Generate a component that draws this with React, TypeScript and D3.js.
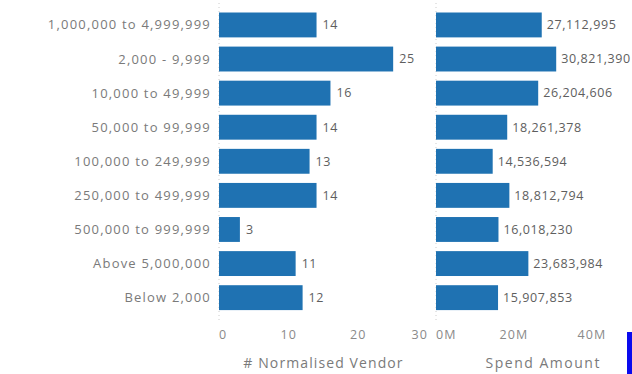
import React from "react";
import * as d3 from "d3";

const categories = [
  "1,000,000 to 4,999,999",
  "2,000 - 9,999",
  "10,000 to 49,999",
  "50,000 to 99,999",
  "100,000 to 249,999",
  "250,000 to 499,999",
  "500,000 to 999,999",
  "Above 5,000,000",
  "Below 2,000",
];
const vendorCounts = [14, 25, 16, 14, 13, 14, 3, 11, 12];
const spendAmounts = [27112995, 30821390, 26204606, 18261378, 14536594, 18812794, 16018230, 23683984, 15907853];
const vendorTicks = [0, 10, 20, 30];
const spendTicks = [0, 20e6, 40e6];
const vendorTitle = "# Normalised Vendor";
const spendTitle = "Spend Amount";

const W = 632;
const H = 374;
const FONT = "'Open Sans', sans-serif";
const BAR = "#1f72b2";

export default function App() {
  const y = d3.scaleBand<string>().domain(categories).range([3.3, 319.3]).padding(0.27);
  const xL = d3.scaleLinear().domain([0, 30]).range([219, 428]);
  const xR = d3.scaleLinear().domain([0, 55e6]).range([436, 650.5]);
  const fmt = d3.format(",");
  const fmtM = (v: number) => `${v / 1e6}M`;
  const tickY = 339;
  const titleY = 368;
  const catStyle = { fontFamily: FONT, fontSize: 13, letterSpacing: 1.2 } as const;
  const valStyle = { fontFamily: FONT, fontSize: 12.5, letterSpacing: 0.6 } as const;
  const tickStyle = { fontFamily: FONT, fontSize: 12.5, letterSpacing: 1.1 } as const;
  const titleStyle = { fontFamily: FONT, fontSize: 14, letterSpacing: 1.1 } as const;

  return (
    <svg width={W} height={H} style={{ position: "absolute", left: 0, top: 0, background: "#fff" }}>
      {/* axis baselines */}
      <line x1={xL(0)} x2={xL(0)} y1={3} y2={320} stroke="#ccc" strokeDasharray="1,3" />
      <line x1={xR(0)} x2={xR(0)} y1={3} y2={320} stroke="#ccc" strokeDasharray="1,3" />

      {/* category labels */}
      {categories.map((c) => (
        <text key={c} x={xL(0) - 8} y={(y(c) as number) + y.bandwidth() / 2} dy="0.35em" textAnchor="end" fill="#7a7a7a" style={catStyle}>
          {c}
        </text>
      ))}

      {/* left bars */}
      {categories.map((c, i) => (
        <g key={"L" + c}>
          <rect x={xL(0)} y={y(c)} width={xL(vendorCounts[i]) - xL(0)} height={y.bandwidth()} fill={BAR} />
          <text x={xL(vendorCounts[i]) + 6} y={(y(c) as number) + y.bandwidth() / 2} dy="0.35em" fill="#5e5e5e" style={valStyle}>
            {vendorCounts[i]}
          </text>
        </g>
      ))}

      {/* right bars */}
      {categories.map((c, i) => (
        <g key={"R" + c}>
          <rect x={xR(0)} y={y(c)} width={xR(spendAmounts[i]) - xR(0)} height={y.bandwidth()} fill={BAR} />
          <text x={xR(spendAmounts[i]) + 5} y={(y(c) as number) + y.bandwidth() / 2} dy="0.35em" fill="#5e5e5e" style={valStyle}>
            {fmt(spendAmounts[i])}
          </text>
        </g>
      ))}

      {/* left ticks */}
      {vendorTicks.map((t, i) => (
        <text key={"lt" + t} x={xL(t)} y={tickY} textAnchor={i === 0 ? "start" : i === vendorTicks.length - 1 ? "end" : "middle"} fill="#8a8a8a" style={tickStyle}>
          {t}
        </text>
      ))}
      {/* right ticks */}
      {spendTicks.map((t, i) => (
        <text key={"rt" + t} x={xR(t)} y={tickY} textAnchor={i === 0 ? "start" : "middle"} fill="#8a8a8a" style={tickStyle}>
          {fmtM(t)}
        </text>
      ))}

      {/* titles */}
      <text x={(xL.range()[0] + xL.range()[1]) / 2} y={titleY} textAnchor="middle" fill="#7a7a7a" style={titleStyle}>
        {vendorTitle}
      </text>
      <text x={(xR.range()[0] + xR.range()[1]) / 2} y={titleY} textAnchor="middle" fill="#7a7a7a" style={{ ...titleStyle, letterSpacing: 1.5 }}>
        {spendTitle}
      </text>

      {/* blue marker at bottom right */}
      <rect x={627} y={332} width={5} height={42} fill="#0a0aee" />
    </svg>
  );
}
